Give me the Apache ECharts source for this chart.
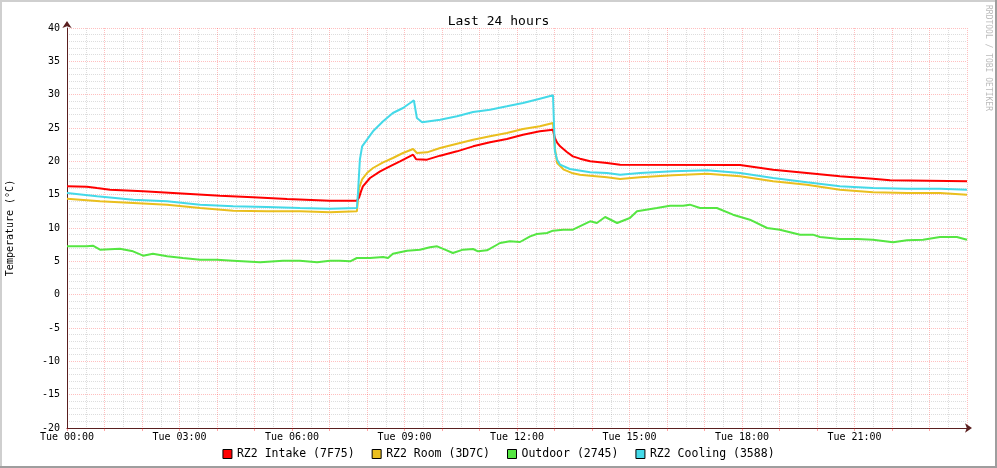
<!DOCTYPE html>
<html><head><meta charset="utf-8">
<script src="https://cdn.jsdelivr.net/npm/echarts@6/dist/echarts.min.js"></script>
<style>html,body{margin:0;padding:0;background:#fff}#c{width:997px;height:468px}</style>
</head><body><div id="c"></div>
<script>
const title = 'Last 24 hours';
const yAxisTitle = 'Temperature (°C)';
const watermark = 'RRDTOOL / TOBI OETIKER';
const xTickLabels = ['Tue 00:00','Tue 03:00','Tue 06:00','Tue 09:00','Tue 12:00','Tue 15:00','Tue 18:00','Tue 21:00'];
const seriesNames = ['RZ2 Intake (7F75)','RZ2 Room (3D7C)','Outdoor (2745)','RZ2 Cooling (3588)'];
const seriesColors = ['#FF0000','#EABF1E','#55E642','#44D9E8'];

// [hour, °C]
const intake = [[0,16.25],[0.53,16.2],[0.8,16.0],[1.15,15.75],[2.03,15.5],[2.83,15.25],[4.08,14.85],[4.96,14.6],[5.87,14.35],[7.01,14.1],[7.73,14.1],[7.79,14.6],[7.84,15.5],[7.89,16.25],[8.08,17.5],[8.35,18.5],[8.61,19.25],[8.88,20.0],[9.23,21.0],[9.31,20.3],[9.6,20.25],[9.95,20.85],[10.4,21.5],[10.83,22.25],[11.28,22.85],[11.73,23.35],[12.16,24.0],[12.61,24.5],[12.96,24.75],[13.01,23.5],[13.07,22.8],[13.15,22.25],[13.33,21.4],[13.49,20.75],[13.68,20.4],[13.95,20.0],[14.4,19.75],[14.75,19.5],[17.95,19.45],[18.83,18.75],[19.73,18.25],[20.61,17.75],[21.49,17.4],[21.95,17.15],[24,17.0]];
const room = [[0,14.4],[0.88,14.0],[1.77,13.75],[2.67,13.5],[3.55,13.0],[4.43,12.6],[5.33,12.5],[6.21,12.5],[7.01,12.35],[7.73,12.5],[7.79,16.0],[7.87,17.3],[8.0,18.25],[8.16,19.0],[8.43,19.85],[8.69,20.5],[8.96,21.25],[9.23,21.85],[9.33,21.25],[9.6,21.35],[9.95,22.0],[10.4,22.65],[10.83,23.25],[11.28,23.75],[11.73,24.25],[12.16,24.85],[12.61,25.25],[12.96,25.75],[13.01,22.0],[13.07,19.75],[13.15,19.3],[13.25,18.75],[13.49,18.2],[13.68,18.0],[13.95,17.85],[14.4,17.6],[14.75,17.35],[15.28,17.6],[16.16,17.9],[17.07,18.15],[17.95,17.75],[18.83,17.0],[19.73,16.5],[20.61,15.75],[21.49,15.35],[22.4,15.25],[23.28,15.25],[24,15.0]];
const outdoor = [[0,7.25],[0.53,7.25],[0.69,7.35],[0.88,6.75],[1.41,6.9],[1.76,6.5],[2.03,5.85],[2.29,6.15],[2.67,5.75],[3.09,5.5],[3.55,5.25],[4.0,5.25],[4.43,5.1],[5.15,4.85],[5.76,5.1],[6.21,5.1],[6.67,4.85],[7.01,5.1],[7.28,5.1],[7.55,5.0],[7.73,5.5],[8.08,5.5],[8.43,5.65],[8.56,5.5],[8.69,6.15],[9.07,6.6],[9.41,6.75],[9.68,7.1],[9.87,7.25],[10.08,6.75],[10.29,6.25],[10.56,6.75],[10.83,6.85],[10.96,6.5],[11.2,6.65],[11.55,7.75],[11.81,8.0],[12.08,7.9],[12.35,8.75],[12.53,9.1],[12.8,9.25],[12.96,9.6],[13.23,9.75],[13.49,9.75],[13.95,11.0],[14.13,10.75],[14.35,11.65],[14.67,10.75],[15.01,11.5],[15.2,12.5],[15.73,13.0],[16.08,13.35],[16.43,13.35],[16.61,13.5],[16.88,13.0],[17.33,13.0],[17.76,12.0],[18.21,11.25],[18.67,10.0],[19.01,9.75],[19.55,9.0],[19.89,9.0],[20.08,8.65],[20.61,8.35],[21.07,8.35],[21.49,8.25],[22.03,7.85],[22.4,8.15],[22.83,8.25],[23.28,8.65],[23.73,8.65],[24,8.25]];
const cooling = [[0,15.25],[0.8,14.75],[1.77,14.25],[2.67,14.0],[3.55,13.5],[4.43,13.25],[5.33,13.15],[6.21,13.0],[7.01,12.9],[7.73,13.0],[7.76,15.3],[7.81,20.25],[7.87,22.25],[8.0,23.25],[8.16,24.5],[8.43,26.0],[8.69,27.25],[8.96,28.0],[9.15,28.75],[9.25,29.15],[9.33,26.5],[9.47,25.85],[9.95,26.25],[10.4,26.75],[10.83,27.4],[11.28,27.75],[11.73,28.25],[12.16,28.75],[12.61,29.4],[12.96,29.9],[12.99,29.9],[13.01,21.5],[13.07,20.25],[13.15,19.5],[13.41,18.85],[13.95,18.35],[14.4,18.25],[14.75,18.0],[15.28,18.25],[16.16,18.5],[17.07,18.65],[17.95,18.25],[18.83,17.5],[19.73,16.85],[20.61,16.25],[21.49,16.0],[22.4,15.9],[23.28,15.9],[24,15.75]];

const seriesData = [intake, room, outdoor, cooling];
const FONT = 'DejaVu Sans Mono';
const chart = echarts.init(document.getElementById('c'), null, {renderer:'canvas'});
const majorGrid = {show:true, lineStyle:{color:'rgba(255,0,0,0.25)', width:1, type:[1,1]}};
const minorGrid = {show:true, lineStyle:{color:'rgba(120,120,120,0.25)', width:1, type:[1,1]}};
const axisLineCol = '#5a1f1f';
chart.setOption({
  animation:false,
  backgroundColor:'#ffffff',
  textStyle:{fontFamily:FONT},
  title:{text:title, left:'center', top:10, textStyle:{fontFamily:FONT, fontSize:13, fontWeight:'normal', color:'#000'}},
  legend:{
    data:seriesNames, bottom:3, left:'center', icon:'rect', itemWidth:9, itemHeight:9, itemGap:17,
    itemStyle:{borderColor:'#000', borderWidth:1},
    textStyle:{fontFamily:FONT, fontSize:11.5, color:'#000'}
  },
  grid:{left:67, top:28, right:30, bottom:40, containLabel:false, outerBoundsMode:'none'},
  xAxis:{
    type:'value', min:0, max:24, interval:1,
    axisLine:{show:true, onZero:false, lineStyle:{color:axisLineCol, width:1}, symbol:['none','arrow'], symbolSize:[7,7], symbolOffset:[0,5]},
    axisTick:{show:true, length:3, lineStyle:{color:'rgba(255,0,0,0.35)'}},
    axisLabel:{fontFamily:FONT, fontSize:10, color:'#000', margin:4,
      formatter:function(v){ return (v % 3 === 0 && v < 24) ? xTickLabels[v/3] : ''; }},
    splitLine:majorGrid,
    minorTick:{show:false, splitNumber:2},
    minorSplitLine:minorGrid
  },
  yAxis:{
    type:'value', min:-20, max:40, interval:5,
    name:yAxisTitle, nameLocation:'middle', nameRotate:90, nameGap:52,
    nameTextStyle:{fontFamily:FONT, fontSize:10, color:'#000'},
    axisLine:{show:true, lineStyle:{color:axisLineCol, width:1}, symbol:['none','arrow'], symbolSize:[7,7], symbolOffset:[0,7]},
    axisTick:{show:false},
    axisLabel:{fontFamily:FONT, fontSize:10, color:'#000', margin:7},
    splitLine:majorGrid,
    minorTick:{show:false, splitNumber:5},
    minorSplitLine:minorGrid
  },
  graphic:[
    {type:'rect', shape:{x:0,y:0,width:997,height:2}, style:{fill:'#CFCFCF'}, silent:true},
    {type:'rect', shape:{x:0,y:0,width:2,height:468}, style:{fill:'#CFCFCF'}, silent:true},
    {type:'rect', shape:{x:0,y:466,width:997,height:2}, style:{fill:'#9E9E9E'}, silent:true},
    {type:'rect', shape:{x:995,y:0,width:2,height:468}, style:{fill:'#9E9E9E'}, silent:true},
    {type:'text', x:988, y:5, rotation:-Math.PI/2, silent:true,
      style:{text:watermark, fill:'#bbbbbb', font:'8px "DejaVu Sans Mono"', textAlign:'left', textVerticalAlign:'middle', verticalAlign:'middle'}}
  ],
  series: seriesData.map(function(d,i){
    return {name:seriesNames[i], type:'line', data:d, showSymbol:false, symbol:'none',
      lineStyle:{color:seriesColors[i], width:2}, itemStyle:{color:seriesColors[i]}, z:2+ (i===0?3:i)};
  })
});
</script></body></html>
